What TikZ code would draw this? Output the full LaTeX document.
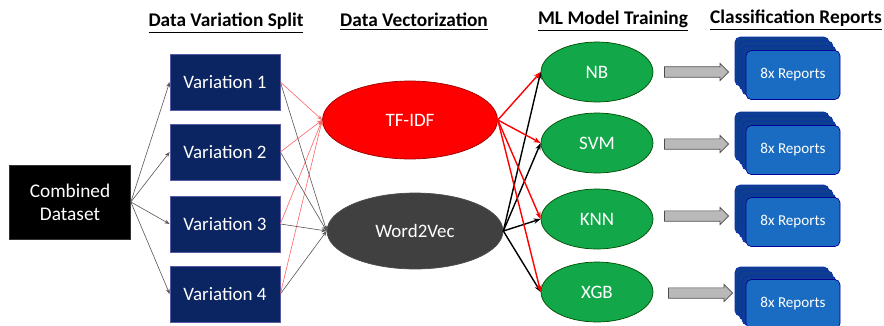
\documentclass[tikz,border=0pt]{standalone}
\usepackage{fontspec}
\setmainfont{Carlito}
\usetikzlibrary{arrows.meta,shapes.geometric,shapes.arrows}
\definecolor{navy}{HTML}{0B2462}
\definecolor{mlgreen}{HTML}{12A84A}
\definecolor{repfront}{HTML}{1A6CC2}
\definecolor{repback}{HTML}{0E3F8E}
\tikzset{
  vbox/.style={draw=blue!30!gray,fill=navy,text=white,minimum width=2.2cm,minimum height=1.12cm,inner sep=0pt,font=\fontsize{10.8}{12}\selectfont},
  mlnode/.style={ellipse,draw=green!30!black,fill=mlgreen,text=white,minimum width=2.24cm,minimum height=1.2cm,inner sep=0pt,font=\fontsize{10.8}{12}\selectfont},
  heading/.style={font=\bfseries\fontsize{11}{12}\selectfont},
  card/.style={rounded corners=3pt,draw=blue!30!repback,fill=repback},
  report/.style={rounded corners=3pt,draw=blue!60!black,fill=repfront,text=white,minimum width=1.88cm,minimum height=0.98cm,font=\fontsize{8.6}{10}\selectfont},
  bigarrow/.style={single arrow,draw=gray!60!black,fill=gray!55,minimum height=1.28cm,minimum width=0.34cm,single arrow head extend=0.05cm,inner xsep=0pt,inner ysep=0.07cm},
  redlink/.style={red!60,line width=0.35pt,-{Stealth[length=3pt]}},
  greylink/.style={gray!70!black,line width=0.35pt,-{Stealth[length=3pt]}},
  tflink/.style={red,line width=0.8pt,-{Stealth[length=4pt]}},
  wvlink/.style={black,line width=0.8pt,-{Stealth[length=4pt]}}
}
\begin{document}
\begin{tikzpicture}[x=0.02cm,y=-0.02cm]
\useasboundingbox (0,0) rectangle (884,325);

% column titles
\node[heading] (h1) at (226,23) {\underline{Data Variation Split}};
\node[heading] (h2) at (414,22) {\underline{Data Vectorization}};
\node[heading] (h3) at (613,21) {\underline{ML Model Training}};
\node[heading] (h4) at (796,20) {\underline{Classification Reports}};

\node[draw=gray!40!black,fill=black,text=white,minimum width=2.42cm,minimum height=1.48cm,align=center,font=\fontsize{11}{13}\selectfont] (comb) at (70,202) {Combined\\Dataset};

\node[vbox] (v1) at (225,82) {Variation 1};
\node[vbox] (v2) at (225,152) {Variation 2};
\node[vbox] (v3) at (225,224) {Variation 3};
\node[vbox] (v4) at (225,294) {Variation 4};

\node[ellipse,draw=red!60!black,fill=red,text=white,minimum width=3.5cm,minimum height=1.56cm,font=\fontsize{10.8}{12}\selectfont] (tfidf) at (410,120) {TF-IDF};
\node[ellipse,draw=black!70,fill=black!75,text=white,minimum width=3.52cm,minimum height=1.52cm,font=\fontsize{10.8}{12}\selectfont] (w2v) at (415,231) {Word2Vec};

\node[mlnode] (nb) at (597,72) {NB};
\node[mlnode] (svm) at (597,143) {SVM};
\node[mlnode] (knn) at (597,219) {KNN};
\node[mlnode] (xgb) at (597,292) {XGB};

\draw[greylink] (comb.east) -- (v1.west);
\draw[greylink] (comb.east) -- (v2.west);
\draw[greylink] (comb.east) -- (v3.west);
\draw[greylink] (comb.east) -- (v4.west);

\draw[redlink] (v1.east) -- (tfidf.west);
\draw[redlink] (v2.east) -- (tfidf.west);
\draw[redlink] (v3.east) -- (tfidf.west);
\draw[redlink] (v4.east) -- (tfidf.west);
\draw[greylink] (v1.east) -- (w2v.west);
\draw[greylink] (v2.east) -- (w2v.west);
\draw[greylink] (v3.east) -- (w2v.west);
\draw[greylink] (v4.east) -- (w2v.west);

\draw[wvlink] (w2v.east) -- (nb.west);
\draw[wvlink] (w2v.east) -- (svm.west);
\draw[wvlink] (w2v.east) -- (knn.west);
\draw[wvlink] (w2v.east) -- (xgb.west);
\draw[tflink] (tfidf.east) -- (nb.west);
\draw[tflink] (tfidf.east) -- (svm.west);
\draw[tflink] (tfidf.east) -- (knn.west);
\draw[tflink] (tfidf.east) -- (xgb.west);

\node[bigarrow] (a1) at (694,72) {};
\node[bigarrow] (a2) at (694,144) {};
\node[bigarrow] (a3) at (694,216) {};
\node[bigarrow] (a4) at (698,293) {};

% stacked report cards
\draw[card] (735,37) rectangle (829,86);
\draw[card] (739,41) rectangle (833,90);
\draw[card] (742,46) rectangle (836,95);
\node[report] (r1) at (793,75) {8x Reports};

\draw[card] (735,112) rectangle (829,161);
\draw[card] (739,116) rectangle (833,165);
\draw[card] (742,121) rectangle (836,170);
\node[report] (r2) at (793,150) {8x Reports};

\draw[card] (735,185) rectangle (829,234);
\draw[card] (739,189) rectangle (833,238);
\draw[card] (742,194) rectangle (836,243);
\node[report] (r3) at (793,222) {8x Reports};

\draw[card] (735,267) rectangle (829,316);
\draw[card] (739,271) rectangle (833,320);
\draw[card] (742,276) rectangle (836,325);
\node[report] (r4) at (793,304) {8x Reports};
\end{tikzpicture}
\end{document}
